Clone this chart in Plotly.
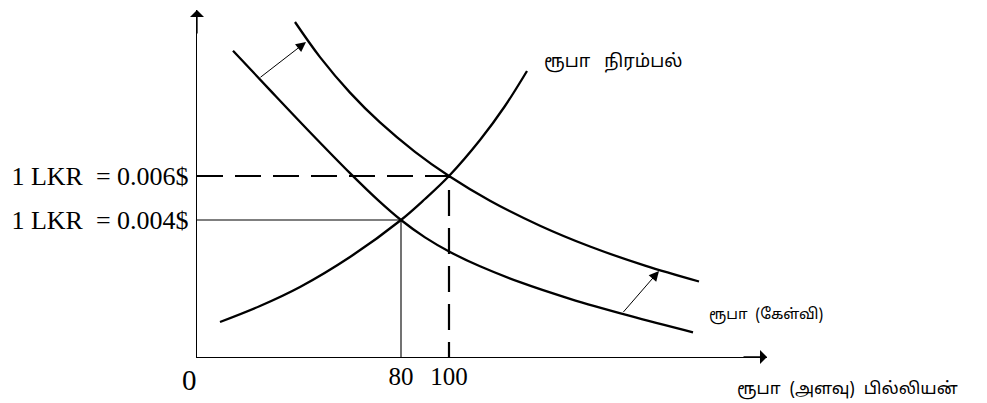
import plotly.graph_objects as go

# ---------------- data (schematic diagram) ----------------
supply_x = [4.58, 21.25, 37.92, 58.75, 80, 90, 100, 112.92, 123.33, 132.5]
supply_y = [-0.000636, 0.000091, 0.000955, 0.002318, 0.004, 0.004955, 0.006, 0.007636, 0.009182, 0.010773]

demand1_x = [10, 25.42, 42.08, 58.75, 70.42, 80, 90, 100.42, 112.92, 129.58, 150.42, 175.42, 201.67]
demand1_y = [0.011695, 0.009905, 0.007991, 0.006132, 0.004905, 0.004, 0.003209, 0.002545,
             0.001895, 0.001173, 0.000418, -0.000359, -0.001105]

demand2_x = [35.83, 46.25, 58.75, 71.25, 85.83, 100, 117.08, 137.92, 158.75, 181.67, 204.17]
demand2_y = [0.013, 0.011405, 0.009791, 0.008436, 0.0071, 0.006, 0.004877, 0.003741,
             0.002795, 0.001927, 0.001205]

q_low, q_high = 80, 100
p_low, p_high = 0.004, 0.006

x_tickvals = [80, 100]
x_ticktext = ["80", "100"]
y_tickvals = [0.004, 0.006]
y_ticktext = ["1 LKR\u00a0 = 0.004$", "1 LKR\u00a0 = 0.006$"]

shift_arrow1 = dict(x0=20.83, y0=0.010436, x1=40.42, y1=0.012091)
shift_arrow2 = dict(x0=172.08, y0=-0.000255, x1=187.5, y1=0.001682)

label_supply = "ரூபா\u00a0\u00a0 நிரம்பல்"
label_demand = "ரூபா\u00a0 (கேள்வி)"
label_xaxis = "ரூபா\u00a0 (அளவு)\u00a0 பில்லியன்"
label_origin = "0"

X_RANGE = [-5, 232.5]
Y_RANGE = [-0.0022273, 0.0135455]

SERIF = "Liberation Serif, Times New Roman, serif"
TAMIL = "Noto Sans Tamil, Latha, Lohit Tamil, Noto Sans, sans-serif"

fig = go.Figure()

curve_line = dict(color="black", width=2.3, shape="spline", smoothing=1.0)
for xs, ys in [(supply_x, supply_y), (demand1_x, demand1_y), (demand2_x, demand2_y)]:
    fig.add_trace(go.Scatter(x=xs, y=ys, mode="lines", line=curve_line,
                             hoverinfo="skip", showlegend=False))

# guide lines at the two equilibria
fig.add_trace(go.Scatter(x=[X_RANGE[0], q_low, q_low], y=[p_low, p_low, Y_RANGE[0]],
                         mode="lines", line=dict(color="black", width=1.1),
                         hoverinfo="skip", showlegend=False))
fig.add_trace(go.Scatter(x=[X_RANGE[0], q_high, q_high], y=[p_high, p_high, Y_RANGE[0]],
                         mode="lines", line=dict(color="black", width=2.2, dash="26px,12px"),
                         hoverinfo="skip", showlegend=False))

annotations = []
# axis arrowheads
annotations.append(dict(xref="paper", yref="paper", x=0, y=1, ax=0, ay=25,
                        showarrow=True, arrowhead=1, arrowsize=1.8, arrowwidth=1.3,
                        arrowcolor="black", text=""))
annotations.append(dict(xref="paper", yref="paper", x=1, y=0, ax=-25, ay=0,
                        showarrow=True, arrowhead=1, arrowsize=1.8, arrowwidth=1.3,
                        arrowcolor="black", text=""))
# demand shift arrows
for a in (shift_arrow1, shift_arrow2):
    annotations.append(dict(xref="x", yref="y", axref="x", ayref="y",
                            x=a["x1"], y=a["y1"], ax=a["x0"], ay=a["y0"],
                            showarrow=True, arrowhead=2, arrowsize=2, arrowwidth=1,
                            arrowcolor="black", text=""))
# text labels
annotations.append(dict(xref="x", yref="y", x=138.75, y=0.011182, text=label_supply,
                        showarrow=False, xanchor="left", yanchor="middle",
                        font=dict(family=TAMIL, size=18, color="black")))
annotations.append(dict(xref="x", yref="y", x=207.5, y=-0.00035, text=label_demand,
                        showarrow=False, xanchor="left", yanchor="middle",
                        font=dict(family=TAMIL, size=15, color="black")))
annotations.append(dict(xref="x", yref="paper", x=219.2, y=-0.095, text=label_xaxis,
                        showarrow=False, xanchor="left", yanchor="middle",
                        font=dict(family=TAMIL, size=17, color="black")))
annotations.append(dict(xref="paper", yref="paper", x=-0.0123, y=-0.066, text=label_origin,
                        showarrow=False, xanchor="center", yanchor="middle",
                        font=dict(family=SERIF, size=29, color="black")))

# the page body has an 8px margin, so the figure is sized 8px smaller
fig.update_layout(
    width=979, height=395,
    margin=dict(l=189, r=220, t=2, b=46, pad=0),
    paper_bgcolor="white", plot_bgcolor="white",
    showlegend=False,
    annotations=annotations,
    xaxis=dict(range=X_RANGE, showgrid=False, zeroline=False, showline=True,
               linecolor="black", linewidth=1.4, ticks="", ticklabelstandoff=-3,
               tickvals=x_tickvals, ticktext=x_ticktext,
               tickfont=dict(family=SERIF, size=25, color="black")),
    yaxis=dict(range=Y_RANGE, showgrid=False, zeroline=False, showline=True,
               linecolor="black", linewidth=1.4, ticks="", ticklabelstandoff=2,
               tickvals=y_tickvals, ticktext=y_ticktext,
               tickfont=dict(family=SERIF, size=26, color="black")),
)

fig.write_html("out.html")
